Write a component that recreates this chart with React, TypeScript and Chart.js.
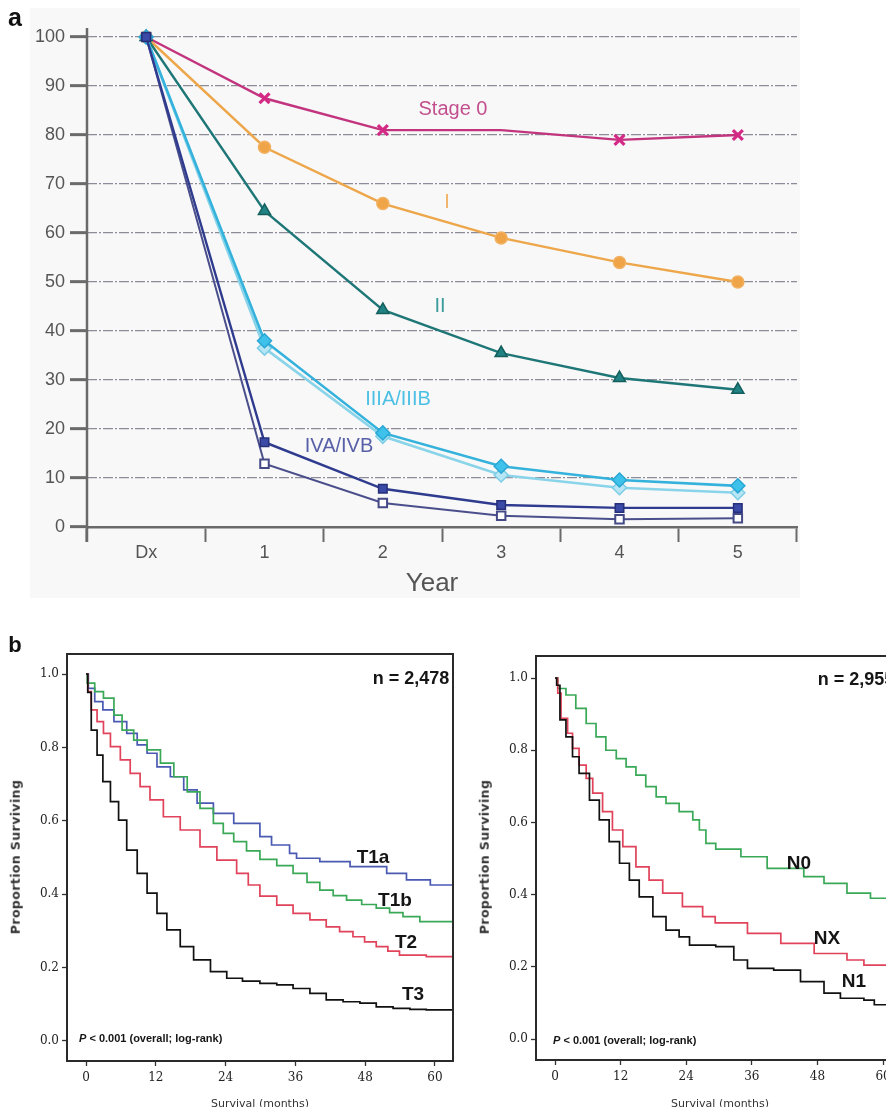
import React, { useEffect, useRef } from 'react';
import { Chart, registerables } from 'chart.js';

Chart.register(...registerables);

// ---------- Panel a: survival by stage (percent) ----------
const YEARS = ['Dx', '1', '2', '3', '4', '5'];
const STAGE_0 = [100, 87.5, 81, 81, 79, 80];
const STAGE_I = [100, 77.5, 66, 59, 54, 50];
const STAGE_II = [100, 64.5, 44.3, 35.5, 30.4, 28];
const STAGE_IIIA = [100, 38, 19.2, 12.4, 9.6, 8.4];
const STAGE_IIIB = [100, 36.5, 18.5, 10.6, 8, 7];
const STAGE_IVA = [100, 17.3, 7.8, 4.5, 3.9, 3.9];
const STAGE_IVB = [100, 12.9, 4.9, 2.3, 1.6, 1.8];
const PCT_TICKS = [0, 10, 20, 30, 40, 50, 60, 70, 80, 90, 100];

// ---------- Panel b left: T stage Kaplan-Meier ----------
const T1A_T = [0, 0.4, 1.5, 2.9, 4.8, 7.0, 8.8, 10.5, 12.2, 14.5, 16.8, 19.1, 21.9, 25.4, 29.9, 31.9, 35.0, 36.2, 40.2, 45.4, 51.7, 55.1, 59.2, 63.1];
const T1A_S = [1.0, 0.961, 0.925, 0.902, 0.87, 0.838, 0.807, 0.784, 0.747, 0.72, 0.684, 0.648, 0.62, 0.593, 0.557, 0.534, 0.511, 0.498, 0.489, 0.475, 0.457, 0.439, 0.425, 0.425];
const T1B_T = [0, 0.2, 1.5, 3.0, 4.8, 6.2, 8.2, 10.5, 12.8, 15.1, 17.4, 19.6, 21.9, 23.6, 25.4, 27.6, 29.9, 32.8, 35.6, 38.0, 40.2, 42.5, 44.8, 47.4, 49.9, 52.2, 54.5, 57.4, 63.1];
const T1B_S = [1.0, 0.975, 0.952, 0.934, 0.888, 0.847, 0.82, 0.793, 0.757, 0.72, 0.679, 0.634, 0.593, 0.566, 0.543, 0.518, 0.495, 0.478, 0.457, 0.432, 0.411, 0.396, 0.384, 0.372, 0.362, 0.35, 0.339, 0.325, 0.321];
const T2_T = [0, 0.3, 0.9, 1.9, 3.0, 4.2, 5.9, 7.6, 9.3, 11.0, 13.3, 16.2, 19.6, 22.5, 25.9, 27.9, 29.9, 32.8, 35.6, 38.5, 41.3, 43.6, 45.9, 47.9, 49.9, 51.9, 53.9, 58.5, 63.1];
const T2_S = [1.0, 0.952, 0.902, 0.87, 0.838, 0.802, 0.766, 0.729, 0.693, 0.657, 0.611, 0.575, 0.529, 0.493, 0.457, 0.425, 0.395, 0.37, 0.348, 0.33, 0.311, 0.298, 0.284, 0.27, 0.257, 0.245, 0.234, 0.23, 0.216];
const T3_T = [0, 0.3, 0.9, 1.9, 2.9, 4.2, 5.6, 7.0, 8.8, 10.5, 12.2, 13.9, 16.2, 18.5, 21.4, 24.2, 26.9, 29.9, 32.8, 35.6, 38.5, 41.3, 44.2, 47.1, 49.9, 52.8, 55.7, 58.5, 63.1];
const T3_S = [1.0, 0.95, 0.847, 0.779, 0.707, 0.652, 0.602, 0.52, 0.457, 0.403, 0.348, 0.303, 0.257, 0.221, 0.189, 0.171, 0.163, 0.157, 0.153, 0.143, 0.13, 0.112, 0.107, 0.103, 0.093, 0.089, 0.086, 0.085, 0.074];

// ---------- Panel b right: N stage Kaplan-Meier ----------
const N0_T = [0, 0.5, 2.0, 3.8, 5.7, 7.5, 9.3, 11.2, 13.0, 14.8, 16.6, 18.5, 20.3, 22.7, 25.2, 26.4, 27.6, 29.4, 34.0, 38.8, 45.5, 49.2, 53.4, 57.7, 62.0, 63.1];
const N0_S = [1.0, 0.971, 0.953, 0.916, 0.874, 0.837, 0.8, 0.777, 0.754, 0.731, 0.699, 0.671, 0.653, 0.63, 0.607, 0.579, 0.542, 0.526, 0.505, 0.473, 0.45, 0.431, 0.404, 0.39, 0.362, 0.355];
const NX_T = [0, 0.5, 1.1, 2.3, 3.2, 4.4, 5.7, 6.9, 8.7, 10.5, 12.4, 14.8, 17.2, 19.7, 23.3, 27.0, 29.3, 35.2, 41.3, 47.4, 53.4, 56.5, 63.1];
const NX_S = [1.0, 0.958, 0.888, 0.847, 0.805, 0.759, 0.722, 0.681, 0.63, 0.579, 0.533, 0.477, 0.44, 0.404, 0.367, 0.339, 0.322, 0.293, 0.265, 0.237, 0.219, 0.205, 0.203];
const N1_T = [0, 0.3, 0.9, 2.0, 3.2, 4.4, 6.3, 8.1, 9.9, 11.8, 13.6, 15.4, 17.9, 20.3, 22.7, 24.6, 29.4, 32.7, 35.2, 40.0, 44.9, 49.2, 52.2, 56.5, 58.4, 62.0, 63.1];
const N1_S = [1.0, 0.98, 0.884, 0.837, 0.782, 0.736, 0.662, 0.607, 0.547, 0.487, 0.44, 0.394, 0.339, 0.302, 0.283, 0.26, 0.256, 0.219, 0.196, 0.191, 0.159, 0.127, 0.113, 0.108, 0.095, 0.085, 0.085];

const MONTH_TICKS = [0, 12, 24, 36, 48, 60];
const PROP_TICKS = [0, 0.2, 0.4, 0.6, 0.8, 1.0];

const SANS = "'Liberation Sans', Arial, sans-serif";
const NARROW = "'Liberation Sans Narrow', 'Liberation Sans', Arial, sans-serif";
const KM_TICK_FONT = "'DejaVu Serif', serif";
const KM_TEXT_FONT = "'DejaVu Sans', sans-serif";

function pts(t: number[], s: number[]) {
  return t.map((x, i) => ({ x, y: s[i] }));
}

const framePlugin = {
  id: 'frame',
  afterDatasetsDraw(chart: any) {
    const { ctx, chartArea: a } = chart;
    ctx.save();
    ctx.strokeStyle = '#2a2a2a';
    ctx.lineWidth = 2;
    ctx.strokeRect(a.left, a.top, a.right - a.left, a.bottom - a.top);
    ctx.restore();
  },
};

const axisLinePlugin = {
  id: 'axisLine',
  afterDraw(chart: any) {
    const { ctx, chartArea: a } = chart;
    ctx.save();
    ctx.strokeStyle = '#6a6a6a';
    ctx.lineWidth = 2.5;
    ctx.beginPath();
    ctx.moveTo(a.left, a.top - 9);
    ctx.lineTo(a.left, a.bottom + 15);
    ctx.stroke();
    ctx.restore();
  },
};

function stageDataset(label: string, data: number[], o: any) {
  return {
    label,
    data,
    borderWidth: 2.4,
    pointRadius: 6,
    pointBorderWidth: 1.5,
    clip: false,
    ...o,
  };
}

function makeStageChart(canvas: HTMLCanvasElement) {
  return new Chart(canvas, {
    type: 'line',
    data: {
      labels: YEARS,
      datasets: [
        stageDataset('IVA', STAGE_IVA, { borderColor: '#2f3b8e', pointStyle: 'rect', pointBackgroundColor: '#3a4aa6', pointBorderColor: '#26307a' }),
        stageDataset('IVB', STAGE_IVB, { borderColor: '#4a4f8c', borderWidth: 2, pointStyle: 'rect', pointBackgroundColor: '#ffffff', pointBorderColor: '#454a86', pointBorderWidth: 2 }),
        stageDataset('IIIA', STAGE_IIIA, { borderColor: '#34b2dc', borderWidth: 2.6, pointStyle: 'rectRot', pointRadius: 7, pointBackgroundColor: '#3ec2ec', pointBorderColor: '#2aa6d4' }),
        stageDataset('IIIB', STAGE_IIIB, { borderColor: '#8ad4ea', borderWidth: 2.6, pointStyle: 'rectRot', pointRadius: 7, pointBackgroundColor: '#b8e6f4', pointBorderColor: '#7ccde6' }),
        stageDataset('II', STAGE_II, { borderColor: '#1e7676', pointStyle: 'triangle', pointRadius: 7, pointBackgroundColor: '#208282', pointBorderColor: '#145e5e' }),
        stageDataset('I', STAGE_I, { borderColor: '#eda64a', pointStyle: 'circle', pointBackgroundColor: '#f0a448', pointBorderColor: '#f2b060' }),
        stageDataset('Stage 0', STAGE_0, { borderColor: '#c2347e', pointStyle: 'crossRot', pointRadius: [6, 7, 7, 0, 7, 7], pointBorderWidth: 3.2, pointBackgroundColor: '#d42a86', pointBorderColor: '#d42a86' }),
      ],
    },
    options: {
      animation: false,
      responsive: false,
      maintainAspectRatio: false,
      layout: { padding: { top: 37, right: 33, left: 0, bottom: 0 } },
      plugins: { legend: { display: false }, tooltip: { enabled: false } },
      elements: { line: { tension: 0 } },
      scales: {
        x: {
          type: 'category',
          offset: true,
          grid: { offset: true, drawOnChartArea: false, drawTicks: true, tickLength: 15, tickWidth: 2, tickColor: '#6a6a6a' },
          border: { display: true, color: '#6a6a6a', width: 2.5 },
          ticks: { color: '#555', font: { family: SANS, size: 18 }, padding: 0, maxRotation: 0, autoSkip: false },
          afterFit: (s: any) => { s.height = 73; },
        },
        y: {
          min: 0,
          max: 100,
          afterBuildTicks: (s: any) => { s.ticks = PCT_TICKS.map((v) => ({ value: v })); },
          grid: {
            color: (c: any) => (c.tick && c.tick.value === 0 ? 'rgba(0,0,0,0)' : '#8c8c98'),
            lineWidth: 1.3,
            drawTicks: true,
            tickLength: 17,
            tickWidth: 3,
            tickColor: '#6a6a6a',
          },
          border: { display: false, dash: [10, 2, 2, 2] },
          ticks: { color: '#555', font: { family: SANS, size: 18 }, padding: 5 },
          afterFit: (s: any) => { s.width = 87; },
        },
      },
    },
    plugins: [axisLinePlugin],
  } as any);
}

function makeKM(canvas: HTMLCanvasElement, series: any[], g: any) {
  return new Chart(canvas, {
    type: 'line',
    data: {
      datasets: series.map((s) => ({
        data: pts(s.t, s.s),
        borderColor: s.color,
        borderWidth: 1.7,
        pointRadius: 0,
        stepped: true,
        fill: false,
      })),
    },
    options: {
      animation: false,
      responsive: false,
      maintainAspectRatio: false,
      layout: { padding: { top: g.top, right: g.right, left: 0, bottom: 0 } },
      plugins: { legend: { display: false }, tooltip: { enabled: false } },
      scales: {
        x: {
          type: 'linear',
          min: g.xmin,
          max: g.xmax,
          afterBuildTicks: (s: any) => { s.ticks = MONTH_TICKS.map((v) => ({ value: v })); },
          grid: { drawOnChartArea: false, drawTicks: true, tickLength: 5, tickWidth: 1.3, tickColor: '#333' },
          border: { display: true, color: '#2a2a2a', width: 2 },
          ticks: { color: '#222', font: { family: KM_TICK_FONT, size: 12 }, padding: 5, callback: (v: any) => String(v) },
          afterFit: (s: any) => { s.height = g.xh; },
        },
        y: {
          type: 'linear',
          min: g.ymin,
          max: g.ymax,
          afterBuildTicks: (s: any) => { s.ticks = PROP_TICKS.map((v) => ({ value: v })); },
          grid: { drawOnChartArea: false, drawTicks: true, tickLength: 5, tickWidth: 1.3, tickColor: '#333' },
          border: { display: true, color: '#2a2a2a', width: 2 },
          ticks: { color: '#222', font: { family: KM_TICK_FONT, size: 12 }, padding: 3, callback: (v: any) => Number(v).toFixed(1) },
          afterFit: (s: any) => { s.width = g.yw; },
        },
      },
    },
    plugins: [framePlugin],
  } as any);
}

const abs = (o: React.CSSProperties): React.CSSProperties => ({
  position: 'absolute',
  whiteSpace: 'nowrap',
  lineHeight: 1,
  ...o,
});

const centered = (x: number, y: number, o: React.CSSProperties) =>
  abs({ left: x, top: y, transform: 'translate(-50%, -50%)', ...o });

export default function App() {
  const aRef = useRef<HTMLCanvasElement>(null);
  const lRef = useRef<HTMLCanvasElement>(null);
  const rRef = useRef<HTMLCanvasElement>(null);

  useEffect(() => {
    const charts: Chart[] = [];
    if (aRef.current) charts.push(makeStageChart(aRef.current));
    if (lRef.current)
      charts.push(
        makeKM(
          lRef.current,
          [
            { t: T3_T, s: T3_S, color: '#111111' },
            { t: T2_T, s: T2_S, color: '#e0435a' },
            { t: T1B_T, s: T1B_S, color: '#3aa957' },
            { t: T1A_T, s: T1A_S, color: '#4a5ab2' },
          ],
          { top: 24, right: 7, xh: 54, yw: 67, xmin: -3.27, xmax: 63.1, ymin: -0.0545, ymax: 1.0545 }
        )
      );
    if (rRef.current)
      charts.push(
        makeKM(
          rRef.current,
          [
            { t: N1_T, s: N1_S, color: '#111111' },
            { t: NX_T, s: NX_S, color: '#e0435a' },
            { t: N0_T, s: N0_S, color: '#3aa957' },
          ],
          { top: 26, right: 20, xh: 55, yw: 76, xmin: -3.48, xmax: 63.1, ymin: -0.058, ymax: 1.061 }
        )
      );
    return () => charts.forEach((c) => c.destroy());
  }, []);

  const kmLabel = { fontFamily: NARROW, fontWeight: 700, fontSize: 19, color: '#151515' } as React.CSSProperties;
  const pText = { fontFamily: NARROW, fontSize: 11, color: '#151515', fontWeight: 700 } as React.CSSProperties;
  const survText = { fontFamily: KM_TEXT_FONT, fontSize: 11, color: '#333' } as React.CSSProperties;
  const propText = { fontFamily: KM_TEXT_FONT, fontSize: 12.5, letterSpacing: 0.4, color: '#333', fontWeight: 600 } as React.CSSProperties;

  return (
    <div style={{ position: 'relative', width: 894, height: 1115, margin: -8, overflow: 'hidden', background: '#ffffff' }}>
      {/* Panel a */}
      <div style={abs({ left: 30, top: 8, width: 770, height: 590, background: '#f8f8f8' })} />
      <canvas ref={aRef} width={830} height={600} style={{ position: 'absolute', left: 0, top: 0, width: 830, height: 600 }} />
      <div style={centered(15, 17, { fontFamily: SANS, fontWeight: 700, fontSize: 25, color: '#111' })}>a</div>
      <div style={centered(453, 108, { fontFamily: SANS, fontSize: 20, color: '#c2508e' })}>Stage 0</div>
      <div style={centered(447, 201, { fontFamily: SANS, fontSize: 20, color: '#f0b266' })}>I</div>
      <div style={centered(440, 305, { fontFamily: SANS, fontSize: 20, color: '#3c9c9c' })}>II</div>
      <div style={centered(398, 398, { fontFamily: SANS, fontSize: 20, color: '#4cc0e4' })}>IIIA/IIIB</div>
      <div style={centered(339, 445, { fontFamily: SANS, fontSize: 20, color: '#5860a8' })}>IVA/IVB</div>
      <div style={centered(432, 582, { fontFamily: SANS, fontSize: 26, color: '#555' })}>Year</div>

      {/* Panel b */}
      <div style={centered(15, 645, { fontFamily: SANS, fontWeight: 700, fontSize: 22, color: '#111' })}>b</div>
      <canvas ref={lRef} width={460} height={485} style={{ position: 'absolute', left: 0, top: 630, width: 460, height: 485 }} />
      <canvas ref={rRef} width={460} height={485} style={{ position: 'absolute', left: 460, top: 630, width: 460, height: 485 }} />

      <div style={centered(411, 678, { ...kmLabel, fontSize: 18 })}>n = 2,478</div>
      <div style={centered(373, 856, kmLabel)}>T1a</div>
      <div style={centered(395, 899, kmLabel)}>T1b</div>
      <div style={centered(406, 941, kmLabel)}>T2</div>
      <div style={centered(413, 993, kmLabel)}>T3</div>
      <div style={abs({ left: 79, top: 1038, transform: 'translateY(-50%)', ...pText })}>
        <i>P</i> &lt; 0.001 (overall; log-rank)
      </div>
      <div style={centered(260, 1103, survText)}>Survival (months)</div>
      <div style={centered(16, 857, { ...propText, transform: 'translate(-50%, -50%) rotate(-90deg)' })}>Proportion Surviving</div>

      <div style={centered(856, 679, { ...kmLabel, fontSize: 18 })}>n = 2,955</div>
      <div style={centered(799, 862, kmLabel)}>N0</div>
      <div style={centered(827, 937, kmLabel)}>NX</div>
      <div style={centered(854, 980, kmLabel)}>N1</div>
      <div style={abs({ left: 553, top: 1040, transform: 'translateY(-50%)', ...pText })}>
        <i>P</i> &lt; 0.001 (overall; log-rank)
      </div>
      <div style={centered(720, 1103, survText)}>Survival (months)</div>
      <div style={centered(485, 857, { ...propText, transform: 'translate(-50%, -50%) rotate(-90deg)' })}>Proportion Surviving</div>
    </div>
  );
}
